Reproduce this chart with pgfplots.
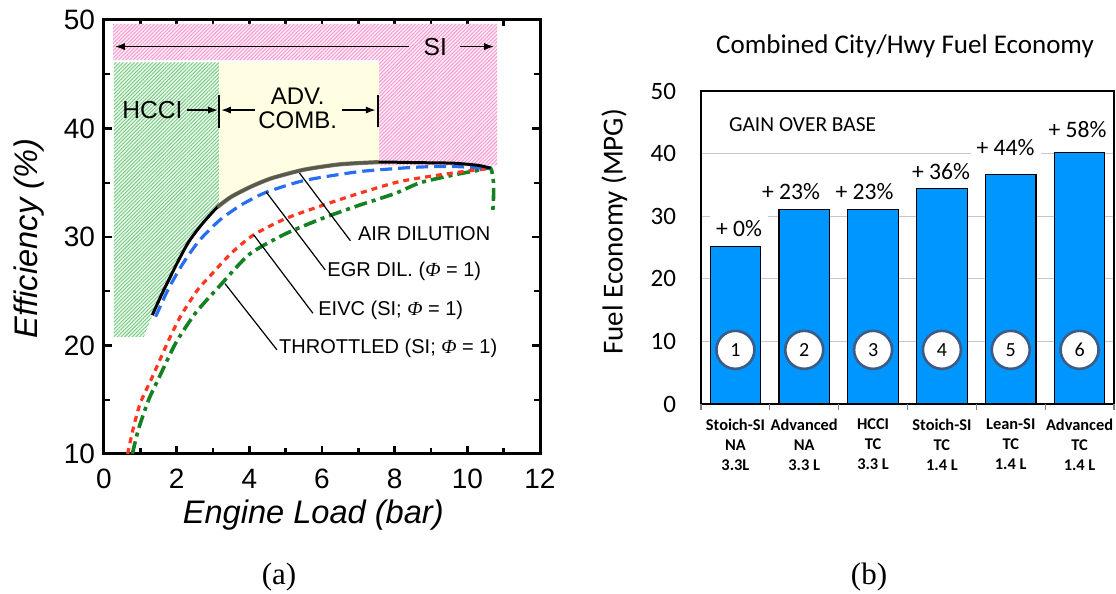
\documentclass[border=0pt]{standalone}
\usepackage{pgfplots}
\pgfplotsset{compat=1.18}
\usepackage{fontspec}
\setmainfont{Liberation Sans}
\newfontfamily\calibri{Carlito}
\newfontfamily\timesf{Liberation Serif}
\usetikzlibrary{patterns.meta,arrows.meta}

\definecolor{sipink}{RGB}{245,150,205}
\definecolor{sipinkbg}{RGB}{254,236,247}
\definecolor{hcgreen}{RGB}{115,200,125}
\definecolor{hcgreenbg}{RGB}{236,249,238}
\definecolor{advyellow}{RGB}{255,253,226}
\definecolor{egrblue}{RGB}{40,110,240}
\definecolor{eivcred}{RGB}{255,55,30}
\definecolor{thrgreen}{RGB}{20,130,35}
\definecolor{shadeline}{RGB}{105,105,88}
\definecolor{barblue}{RGB}{0,150,255}
\definecolor{ringblue}{RGB}{60,92,135}

\newcommand{\fsz}[1]{\fontsize{#1pt}{#1pt}\selectfont}
\newcommand{\phisym}{{\timesf\itshape Φ}}

\tikzset{annarrow/.style={line width=0.8pt,-{Latex[length=5pt,width=3.6pt]}}}

\begin{document}
\begin{tikzpicture}
\useasboundingbox (0,0) rectangle (558pt,297pt);

% ---------------- (a) efficiency vs engine load ----------------
\begin{axis}[
  at={(52pt,70pt)}, anchor=south west, scale only axis,
  width=218pt, height=217pt,
  xmin=0, xmax=12, ymin=10, ymax=50,
  xtick={0,2,...,12}, ytick={10,20,...,50},
  minor x tick num=1, minor y tick num=1,
  tick align=inside,
  major tick length=4pt, minor tick length=3pt,
  tick style={line width=1.2pt, black},
  axis line style={line width=1.5pt},
  tick label style={font=\fsz{14}},
  /pgf/number format/assume math mode=true,
  xticklabel style={yshift=-4pt},
  yticklabel style={xshift=-1pt},
  xlabel={\itshape Engine Load (bar)},
  ylabel={\itshape Efficiency (\%)},
  label style={font=\fsz{16.3}},
  xlabel style={at={(axis description cs:0.48,-0.1406)}, anchor=center},
  ylabel style={at={(axis description cs:-0.172,0.4965)}, anchor=center},
]
% operating regimes
\addplot[draw=none, fill=sipinkbg,
  postaction={pattern={Lines[angle=45,distance=1.3pt,line width=0.45pt]}, pattern color=sipink}]
  coordinates {(0.25,49.65) (10.82,49.65) (10.82,36.6) (7.57,36.6) (7.57,46.3) (0.25,46.3)} -- cycle;
\addplot[draw=none, fill=hcgreenbg,
  postaction={pattern={Lines[angle=45,distance=1.3pt,line width=0.45pt]}, pattern color=hcgreen}]
  coordinates {(0.27,46.1) (3.17,46.1) (3.17,32.95) (3.12,32.75) (2.7,31.2) (2.34,29.6)
               (2.06,27.9) (1.85,26.5) (1.6,24.8) (1.33,22.8) (1.1,20.8) (0.27,20.8)} -- cycle;
\addplot[draw=none, fill=advyellow]
  coordinates {(3.17,46.1) (7.57,46.1) (7.57,36.9) (6.5,36.7) (5.5,36.2) (4.6,35.4)
               (4.02,34.6) (3.5,33.7) (3.17,32.95)} -- cycle;

% THROTTLED (SI; phi = 1)
\addplot[thrgreen, line width=1.8pt, smooth, tension=0.4,
  dash pattern=on 6.5pt off 2.5pt on 2pt off 2.5pt]
  coordinates {(0.78,10) (0.95,12.3) (1.23,15.0) (1.51,17.0) (1.97,20.2) (2.52,23.0)
               (3.16,25.4) (4.0,28.4) (5.0,30.3) (6.0,31.7) (7.0,32.9) (8.0,34.0)
               (8.7,35.0) (9.6,35.7) (10.3,36.15) (10.64,36.33) (10.72,35.0) (10.72,33.6) (10.7,32.3)};
% EIVC (SI; phi = 1)
\addplot[eivcred, line width=1.6pt, smooth, tension=0.4,
  dash pattern=on 3pt off 2.5pt]
  coordinates {(0.65,10) (0.8,12.3) (1.0,14.7) (1.33,17.1) (1.74,20.2) (2.1,22.65)
               (2.57,25.1) (2.89,26.3) (3.5,28.5) (4.12,30.2) (5.0,31.7) (6.0,32.9)
               (7.0,34.0) (8.0,35.0) (8.7,35.45) (9.6,35.9) (10.3,36.2) (10.64,36.33)};
% EGR dilution (phi = 1)
\addplot[egrblue, line width=1.6pt, smooth, tension=0.4,
  dash pattern=on 6pt off 3pt]
  coordinates {(1.42,22.65) (1.74,25.0) (2.01,26.65) (2.24,27.9) (2.63,29.7) (3.2,31.6)
               (3.8,33.0) (4.45,34.1) (5.5,35.2) (6.96,36.0) (8.0,36.3) (8.7,36.45)
               (9.6,36.5) (10.64,36.33)};
% air dilution
\addplot[black, line width=1.5pt, smooth, tension=0.4]
  coordinates {(1.33,22.8) (1.6,24.8) (1.85,26.5) (2.06,27.9) (2.34,29.6) (2.7,31.2)
               (3.12,32.75) (3.5,33.7) (4.02,34.6) (4.6,35.4) (5.5,36.2) (6.5,36.7)
               (7.56,36.9) (8.7,36.85) (9.63,36.8) (10.3,36.6) (10.64,36.35)};
\addplot[shadeline, line width=2.1pt, opacity=0.85, smooth, tension=0.4]
  coordinates {(3.12,32.75) (3.5,33.7) (4.02,34.6) (4.6,35.4) (5.5,36.2) (6.5,36.7) (7.56,36.9)};

% regime labels
\draw[annarrow] (axis cs:8.4,47.55) -- (axis cs:0.3,47.55);
\draw[annarrow] (axis cs:9.8,47.55) -- (axis cs:10.74,47.55);
\node[font=\fsz{12.3}] at (axis cs:9.12,47.55) {SI};
\node[font=\fsz{12.3}] at (axis cs:1.33,41.7) {HCCI};
\draw[annarrow] (axis cs:2.28,41.7) -- (axis cs:3.14,41.7);
\draw[line width=1pt] (axis cs:3.17,40.0) -- (axis cs:3.17,43.1);
\draw[annarrow] (axis cs:4.16,41.7) -- (axis cs:3.22,41.7);
\draw[annarrow] (axis cs:6.55,41.7) -- (axis cs:7.48,41.7);
\draw[line width=1pt] (axis cs:7.54,40.1) -- (axis cs:7.54,43.1);
\node[font=\fontsize{12pt}{11.7pt}\selectfont, align=center] at (axis cs:5.33,41.87) {ADV.\\COMB.};

% curve labels
\draw[line width=0.6pt] (axis cs:5.38,35.9) -- (axis cs:6.78,29.66);
\node[anchor=west, inner sep=0pt, font=\fsz{10}] at (axis cs:6.98,30.34) {AIR DILUTION};
\draw[line width=0.6pt] (axis cs:4.46,34.17) -- (axis cs:6.09,26.96);
\node[anchor=west, inner sep=0pt, font=\fsz{10}] at (axis cs:6.14,26.8) {EGR DIL. (\phisym{} = 1)};
\draw[line width=0.6pt] (axis cs:4.12,30.2) -- (axis cs:5.75,22.97);
\node[anchor=west, inner sep=0pt, font=\fsz{10}] at (axis cs:5.89,23.2) {EIVC (SI; \phisym{} = 1)};
\draw[line width=0.6pt] (axis cs:3.33,25.7) -- (axis cs:4.76,19.6);
\node[anchor=west, inner sep=0pt, font=\fsz{10}] at (axis cs:4.81,19.74) {THROTTLED (SI; \phisym{} = 1)};
\end{axis}

% ---------------- (b) fuel economy ----------------
\begin{axis}[
  at={(350.5pt,95pt)}, anchor=south west, scale only axis,
  width=206.5pt, height=156.5pt,
  xmin=-0.5, xmax=5.5, ymin=0, ymax=50,
  clip=false,
  ytick={0,10,...,50},
  ymajorgrids, grid style={gray!45, line width=0.6pt},
  xtick={0,1,2,3,4,5},
  xticklabels={{Stoich-SI\\NA\\3.3L},{Advanced\\NA\\3.3 L},{HCCI\\TC\\3.3 L},
               {Stoich-SI\\TC\\1.4 L},{Lean-SI\\TC\\1.4 L},{Advanced\\TC\\1.4 L}},
  xtick style={draw=none}, ytick style={draw=none},
  axis line style={line width=1pt},
  tick label style={font=\calibri\fsz{12.5}},
  /pgf/number format/assume math mode=true,
  yticklabel style={xshift=-9pt},
  xticklabel style={align=center, yshift=-4pt,
    font=\calibri\bfseries\fontsize{8.2pt}{9.9pt}\selectfont},
  ylabel={Fuel Economy (MPG)},
  ylabel style={font=\calibri\fsz{14.5}, at={(axis description cs:-0.21,0.55)}, anchor=center},
  title={Combined City/Hwy Fuel Economy},
  title style={font=\calibri\fsz{13.5}, at={(axis description cs:0.494,1.105)}, anchor=center},
]
\addplot[ybar, bar width=0.735, fill=barblue, draw=black, line width=0.6pt]
  coordinates {(0,25.1) (1,31.1) (2,31.1) (3,34.4) (4,36.65) (5,40.2)};

% gain over the base engine
\addplot[only marks, mark=none, nodes near coords, point meta=explicit symbolic,
  every node near coord/.append style={anchor=center, fill=white, inner sep=3pt,
    font=\calibri\fsz{11.8}, text=black}]
  coordinates {(0.052,28.0)[+ 0\%] (0.808,33.9)[+ 23\%] (1.875,33.9)[+ 23\%]
               (2.987,37.1)[+ 36\%] (3.925,41.0)[+ 44\%] (4.97,43.9)[+ 58\%]};

% configuration numbers
\addplot[only marks, mark=none, nodes near coords, point meta=explicit symbolic,
  every node near coord/.append style={anchor=center, circle, draw=ringblue, line width=1.3pt,
    fill=white, minimum size=19pt, inner sep=0pt, font=\calibri\fsz{10}, text=black}]
  coordinates {(0,8.65)[1] (1,8.65)[2] (2,8.65)[3] (3,8.65)[4] (4,8.65)[5] (5,8.65)[6]};

\node[anchor=west, inner sep=0pt, font=\calibri\fsz{10.7}] at (axis cs:-0.098,44.55) {GAIN OVER BASE};

% category separators below the axis
\draw[gray, line width=0.6pt] (axis cs:-0.5,0) -- ([yshift=-3pt]axis cs:-0.5,0);
\draw[gray, line width=0.6pt] (axis cs:0.5,0) -- ([yshift=-3pt]axis cs:0.5,0);
\draw[gray, line width=0.6pt] (axis cs:1.5,0) -- ([yshift=-3pt]axis cs:1.5,0);
\draw[gray, line width=0.6pt] (axis cs:2.5,0) -- ([yshift=-3pt]axis cs:2.5,0);
\draw[gray, line width=0.6pt] (axis cs:3.5,0) -- ([yshift=-3pt]axis cs:3.5,0);
\draw[gray, line width=0.6pt] (axis cs:4.5,0) -- ([yshift=-3pt]axis cs:4.5,0);
\draw[gray, line width=0.6pt] (axis cs:5.5,0) -- ([yshift=-3pt]axis cs:5.5,0);
\end{axis}

\node[font=\timesf\fsz{15.5}] at (139.5pt,8.5pt) {(a)};
\node[font=\timesf\fsz{15.5}] at (434.5pt,8.5pt) {(b)};
\end{tikzpicture}
\end{document}
